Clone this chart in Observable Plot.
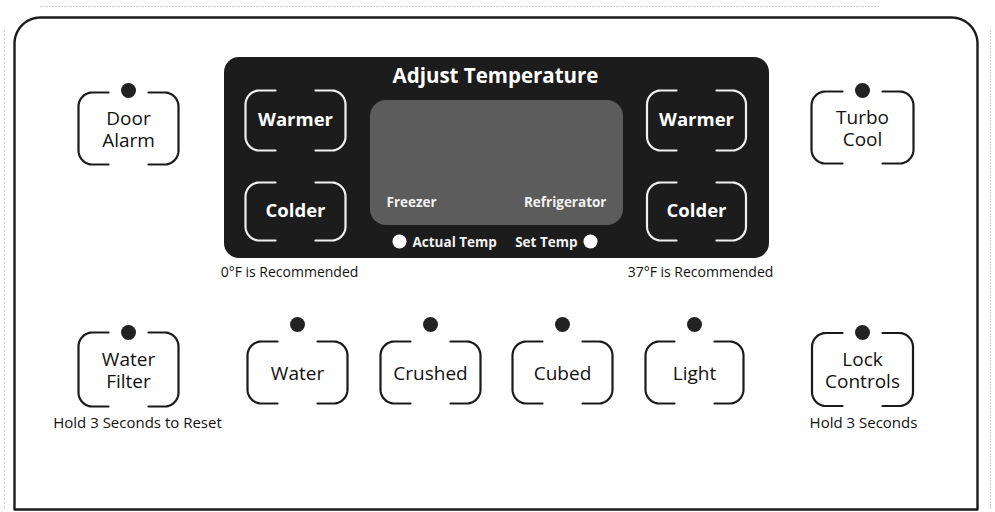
<!DOCTYPE html>
<html><head><meta charset="utf-8">
<script src="https://cdn.jsdelivr.net/npm/d3@7"></script>
<script src="https://cdn.jsdelivr.net/npm/@observablehq/plot@0.6"></script>
<style>body{margin:0;background:#fff}</style>
</head><body><div id="chart"></div>
<script>
// Buttons of the control panel (layout units = panel coordinates)
const buttonLabels = ["Warmer","Colder","Warmer","Colder","Door\nAlarm","Turbo\nCool","Water\nFilter","Water","Crushed","Cubed","Light","Lock\nControls"];
const buttonCX = [295,295,696,696,128,862,128,297,430,562,694,862];
const buttonCY = [120,211,120,211,128,127,369,372,372,372,372,369];
const buttonW  = [100,100,99,99,100,102,100,100,100,100,98,101];
const buttonH  = [60,58,60,58,72,72,74,62,62,62,62,73];
const buttonOnDark = [true,true,true,true,false,false,false,false,false,false,false,false];

// Indicator lights
const lightX = [128,862,128,297,430,562,694,862];
const lightY = [90,90,332,324,324,324,324,332];

// Notes
const noteText = ["0°F is Recommended","37°F is Recommended","Hold 3 Seconds to Reset","Hold 3 Seconds"];
const noteX = [289,700,137,863];
const noteY = [272,272,423,423];
const noteSize = [14,14,15,15];

// Display panel labels
const displayText = ["Freezer","Refrigerator"];
const displayX = [386,606];
const legendText = ["Actual Temp","Set Temp"];
const legendX = [412,577];
const legendDotX = [399,590];

// build bracket outlines for each button
const r = 14, gap = 20;
const bracketPts = [];
buttonLabels.forEach((lab, i) => {
  const cx = buttonCX[i], cy = buttonCY[i], w = buttonW[i], h = buttonH[i];
  const x0 = cx - w/2, y0 = cy - h/2, y1 = cy + h/2;
  const pts = [];
  pts.push([cx - gap, y0]);
  for (let k = 0; k <= 10; k++) { const a = k/10*Math.PI/2; pts.push([x0 + r - r*Math.sin(a), y0 + r - r*Math.cos(a)]); }
  for (let k = 0; k <= 10; k++) { const a = k/10*Math.PI/2; pts.push([x0 + r - r*Math.cos(a), y1 - r + r*Math.sin(a)]); }
  pts.push([cx - gap, y1]);
  for (const side of ["L","R"]) {
    for (const [x, y] of pts) bracketPts.push({id: i + side, x: side === "L" ? x : 2*cx - x, y, dark: buttonOnDark[i]});
  }
});

// outer panel outline
const outer = {x0: 14, x1: 977, y0: 17, y1: 509, r: 26};
const outerPts = [];
outerPts.push([outer.x0, outer.y1]);
for (let k = 0; k <= 16; k++) { const a = k/16*Math.PI/2; outerPts.push([outer.x0 + outer.r - outer.r*Math.cos(a), outer.y0 + outer.r - outer.r*Math.sin(a)]); }
for (let k = 0; k <= 16; k++) { const a = k/16*Math.PI/2; outerPts.push([outer.x1 - outer.r + outer.r*Math.sin(a), outer.y0 + outer.r - outer.r*Math.cos(a)]); }
outerPts.push([outer.x1, outer.y1]);
outerPts.push([outer.x0, outer.y1]);

const buttons = buttonLabels.map((t, i) => ({t, x: buttonCX[i], y: buttonCY[i], dark: buttonOnDark[i]}));
const darkButtons = buttons.filter(d => d.dark);
const lightButtons = buttons.filter(d => !d.dark);
const FONT = "'Open Sans', 'DejaVu Sans', sans-serif";

const chart = Plot.plot({
  width: 995, height: 512, margin: 0,
  x: {domain: [0, 995], axis: null},
  y: {domain: [0, 512], reverse: true, axis: null},
  style: {background: "#fff"},
  marks: [
    // faint scan border
    Plot.line([[40,6],[880,6]], {stroke: "#c8c8c8", strokeDasharray: "1,2", strokeWidth: 1}),
    Plot.line([[990,30],[990,510]], {stroke: "#c8c8c8", strokeDasharray: "1,2", strokeWidth: 1}),
    Plot.line([[4,30],[4,510]], {stroke: "#d0d0d0", strokeDasharray: "1,3", strokeWidth: 1}),
    Plot.line(outerPts, {stroke: "#1a1a1a", strokeWidth: 2.4}),
    // dark temperature panel and display
    Plot.rect([{x1: 224, x2: 769, y1: 57, y2: 258}], {x1: "x1", x2: "x2", y1: "y1", y2: "y2", fill: "#1c1c1c", rx: 15}),
    Plot.rect([{x1: 370, x2: 623, y1: 100, y2: 225}], {x1: "x1", x2: "x2", y1: "y1", y2: "y2", fill: "#5c5c5c", rx: 16}),
    Plot.text(["Adjust Temperature"], {x: 495, y: 76, text: d => d, fill: "#fff", fontSize: 20.5, fontWeight: "bold", fontFamily: FONT}),
    Plot.text([displayText[0]], {x: displayX[0], y: 202, text: d => d, textAnchor: "start", fill: "#f2f2f2", fontSize: 13.5, fontWeight: "bold", fontFamily: FONT}),
    Plot.text([displayText[1]], {x: displayX[1], y: 202, text: d => d, textAnchor: "end", fill: "#f2f2f2", fontSize: 13.5, fontWeight: "bold", fontFamily: FONT}),
    Plot.text([legendText[0]], {x: legendX[0], y: 242, text: d => d, textAnchor: "start", fill: "#f2f2f2", fontSize: 13.5, fontWeight: "bold", fontFamily: FONT}),
    Plot.text([legendText[1]], {x: legendX[1], y: 242, text: d => d, textAnchor: "end", fill: "#f2f2f2", fontSize: 13.5, fontWeight: "bold", fontFamily: FONT}),
    Plot.dot(legendDotX, {x: d => d, y: 241, r: 7, fill: "#fff"}),
    // buttons
    Plot.line(bracketPts, {x: "x", y: "y", z: "id", stroke: d => d.dark ? "#f0f0f0" : "#1a1a1a", strokeWidth: 2.2, curve: "linear"}),
    Plot.text(darkButtons, {x: "x", y: "y", text: "t", fill: "#fff", fontSize: 18.5, fontWeight: "bold", fontFamily: FONT}),
    Plot.text(lightButtons, {x: "x", y: "y", text: "t", fill: "#111", fontSize: 19, fontWeight: "500", lineHeight: 1.16, fontFamily: FONT}),
    Plot.dot(lightX, {x: d => d, y: (d, i) => lightY[i], r: 7.5, fill: "#222"}),
    // notes
    Plot.text(noteText, {x: (d, i) => noteX[i], y: (d, i) => noteY[i], text: d => d, fill: "#111", fontSize: (d, i) => noteSize[i], fontWeight: "500", fontFamily: FONT})
  ]
});
document.getElementById("chart").append(chart);
</script>
</body></html>
